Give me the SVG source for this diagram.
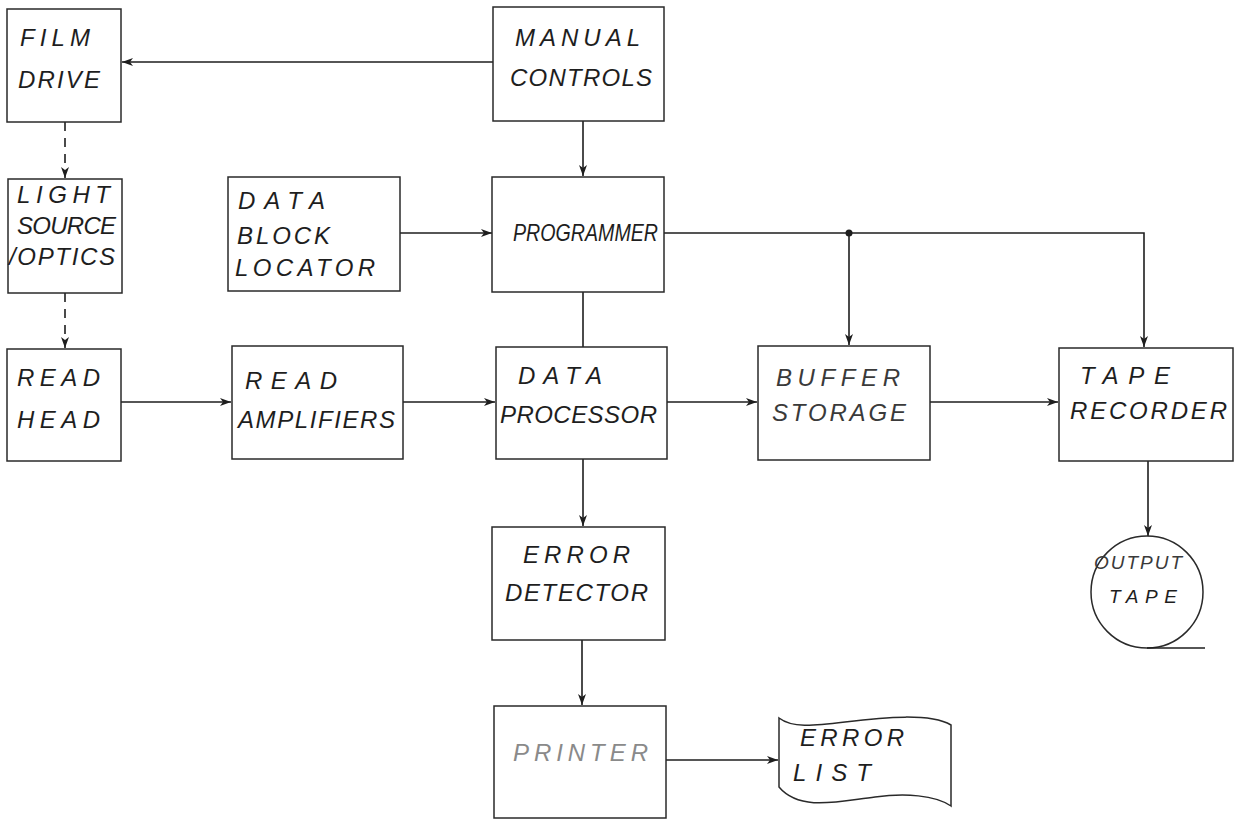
<svg xmlns="http://www.w3.org/2000/svg" width="1235" height="819" viewBox="0 0 1235 819">
<defs>
<style>
.box{fill:none;stroke:#2a2a2a;stroke-width:1.5}
.ln{fill:none;stroke:#1e1e1e;stroke-width:1.6}
.dash{stroke-dasharray:9 7}
text{font-family:"Liberation Sans",Arial,sans-serif;font-style:italic;font-size:24px;fill:#1e1e1e}
.faint{fill:#8a8a8a}
.mid{fill:#3a3a3a}
.sm{font-size:19px}
</style>
<marker id="ah" viewBox="0 0 12 10" refX="11" refY="5" markerWidth="12" markerHeight="10" markerUnits="userSpaceOnUse" orient="auto">
<path d="M0,1 L11,5 L0,9 L3,5 Z" fill="#1e1e1e"/>
</marker>
</defs>
<rect width="1235" height="819" fill="#ffffff"/>

<g id="connectors">
<line class="ln" x1="493" y1="62" x2="122" y2="62" marker-end="url(#ah)"/>
<line class="ln dash" x1="65" y1="122" x2="65" y2="178" marker-end="url(#ah)"/>
<line class="ln dash" x1="65" y1="293" x2="65" y2="348" marker-end="url(#ah)"/>
<line class="ln" x1="121" y1="402" x2="231" y2="402" marker-end="url(#ah)"/>
<line class="ln" x1="403" y1="402" x2="495" y2="402" marker-end="url(#ah)"/>
<line class="ln" x1="667" y1="402" x2="757" y2="402" marker-end="url(#ah)"/>
<line class="ln" x1="930" y1="402" x2="1058" y2="402" marker-end="url(#ah)"/>
<line class="ln" x1="583" y1="121" x2="583" y2="176" marker-end="url(#ah)"/>
<line class="ln" x1="400" y1="233" x2="492" y2="233" marker-end="url(#ah)"/>
<line class="ln" x1="583" y1="292" x2="583" y2="347"/>
<polyline class="ln" points="664,233 1144,233 1144,347" marker-end="url(#ah)"/>
<line class="ln" x1="849" y1="233" x2="849" y2="345" marker-end="url(#ah)"/>
<circle cx="849" cy="233" r="3.5" fill="#1e1e1e"/>
<line class="ln" x1="583" y1="459" x2="583" y2="526" marker-end="url(#ah)"/>
<line class="ln" x1="582" y1="640" x2="582" y2="705" marker-end="url(#ah)"/>
<line class="ln" x1="666" y1="760" x2="778" y2="760" marker-end="url(#ah)"/>
<line class="ln" x1="1148" y1="461" x2="1148" y2="536" marker-end="url(#ah)"/>
</g>

<g id="film-drive">
<rect class="box" x="7" y="9" width="114" height="113"/>
<text x="20" y="46" textLength="70" lengthAdjust="spacing">FILM</text>
<text x="18" y="88" textLength="82" lengthAdjust="spacing">DRIVE</text>
</g>

<g id="light-source-optics">
<rect class="box" x="8" y="179" width="114" height="114"/>
<text x="17" y="203" textLength="93" lengthAdjust="spacing">LIGHT</text>
<text x="17" y="234" textLength="99" lengthAdjust="spacing">SOURCE</text>
<text x="9" y="265" textLength="106" lengthAdjust="spacing">/OPTICS</text>
</g>

<g id="data-block-locator">
<rect class="box" x="228" y="177" width="172" height="114"/>
<text x="238" y="209" textLength="87" lengthAdjust="spacing">DATA</text>
<text x="237" y="244" textLength="93" lengthAdjust="spacing">BLOCK</text>
<text x="235" y="276" textLength="140" lengthAdjust="spacing">LOCATOR</text>
</g>

<g id="manual-controls">
<rect class="box" x="493" y="7" width="171" height="114"/>
<text x="515" y="46" textLength="125" lengthAdjust="spacing">MANUAL</text>
<text x="510" y="86" textLength="142" lengthAdjust="spacing">CONTROLS</text>
</g>

<g id="programmer">
<rect class="box" x="492" y="177" width="172" height="115"/>
<text x="513" y="241" textLength="145" lengthAdjust="spacingAndGlyphs">PROGRAMMER</text>
</g>

<g id="read-head">
<rect class="box" x="7" y="349" width="114" height="112"/>
<text x="17" y="386" textLength="83" lengthAdjust="spacing">READ</text>
<text x="17" y="428" textLength="83" lengthAdjust="spacing">HEAD</text>
</g>

<g id="read-amplifiers">
<rect class="box" x="232" y="346" width="171" height="113"/>
<text x="245" y="389" textLength="92" lengthAdjust="spacing">READ</text>
<text x="238" y="428" textLength="157" lengthAdjust="spacing">AMPLIFIERS</text>
</g>

<g id="data-processor">
<rect class="box" x="496" y="347" width="171" height="112"/>
<text x="518" y="384" textLength="84" lengthAdjust="spacing">DATA</text>
<text x="500" y="423" textLength="157" lengthAdjust="spacing">PROCESSOR</text>
</g>

<g id="buffer-storage">
<rect class="box" x="758" y="346" width="172" height="114"/>
<text class="mid" x="776" y="386" textLength="124" lengthAdjust="spacing">BUFFER</text>
<text class="mid" x="772" y="421" textLength="134" lengthAdjust="spacing">STORAGE</text>
</g>

<g id="tape-recorder">
<rect class="box" x="1059" y="348" width="174" height="113"/>
<text x="1080" y="384" textLength="90" lengthAdjust="spacing">TAPE</text>
<text x="1070" y="419" textLength="157" lengthAdjust="spacing">RECORDER</text>
</g>

<g id="error-detector">
<rect class="box" x="492" y="527" width="173" height="113"/>
<text x="523" y="563" textLength="107" lengthAdjust="spacing">ERROR</text>
<text x="505" y="601" textLength="143" lengthAdjust="spacing">DETECTOR</text>
</g>

<g id="printer">
<rect class="box" x="494" y="706" width="172" height="112"/>
<text class="faint" x="513" y="761" textLength="135" lengthAdjust="spacing">PRINTER</text>
</g>

<g id="error-list">
<path class="box" d="M779,718 C792,728 812,726 845,722 C885,717 930,713 951,725 L951,806 C935,795 905,793 875,797 C840,801 800,812 779,787 Z"/>
<text x="800" y="746" textLength="104" lengthAdjust="spacing">ERROR</text>
<text x="793" y="781" textLength="78" lengthAdjust="spacing">LIST</text>
</g>

<g id="output-tape">
<circle class="box" cx="1147" cy="592" r="56"/>
<line class="ln" x1="1147" y1="648" x2="1205" y2="648"/>
<text class="sm mid" x="1094" y="569" textLength="88" lengthAdjust="spacing">OUTPUT</text>
<text class="sm" x="1109" y="603" textLength="68" lengthAdjust="spacing">TAPE</text>
</g>
</svg>
